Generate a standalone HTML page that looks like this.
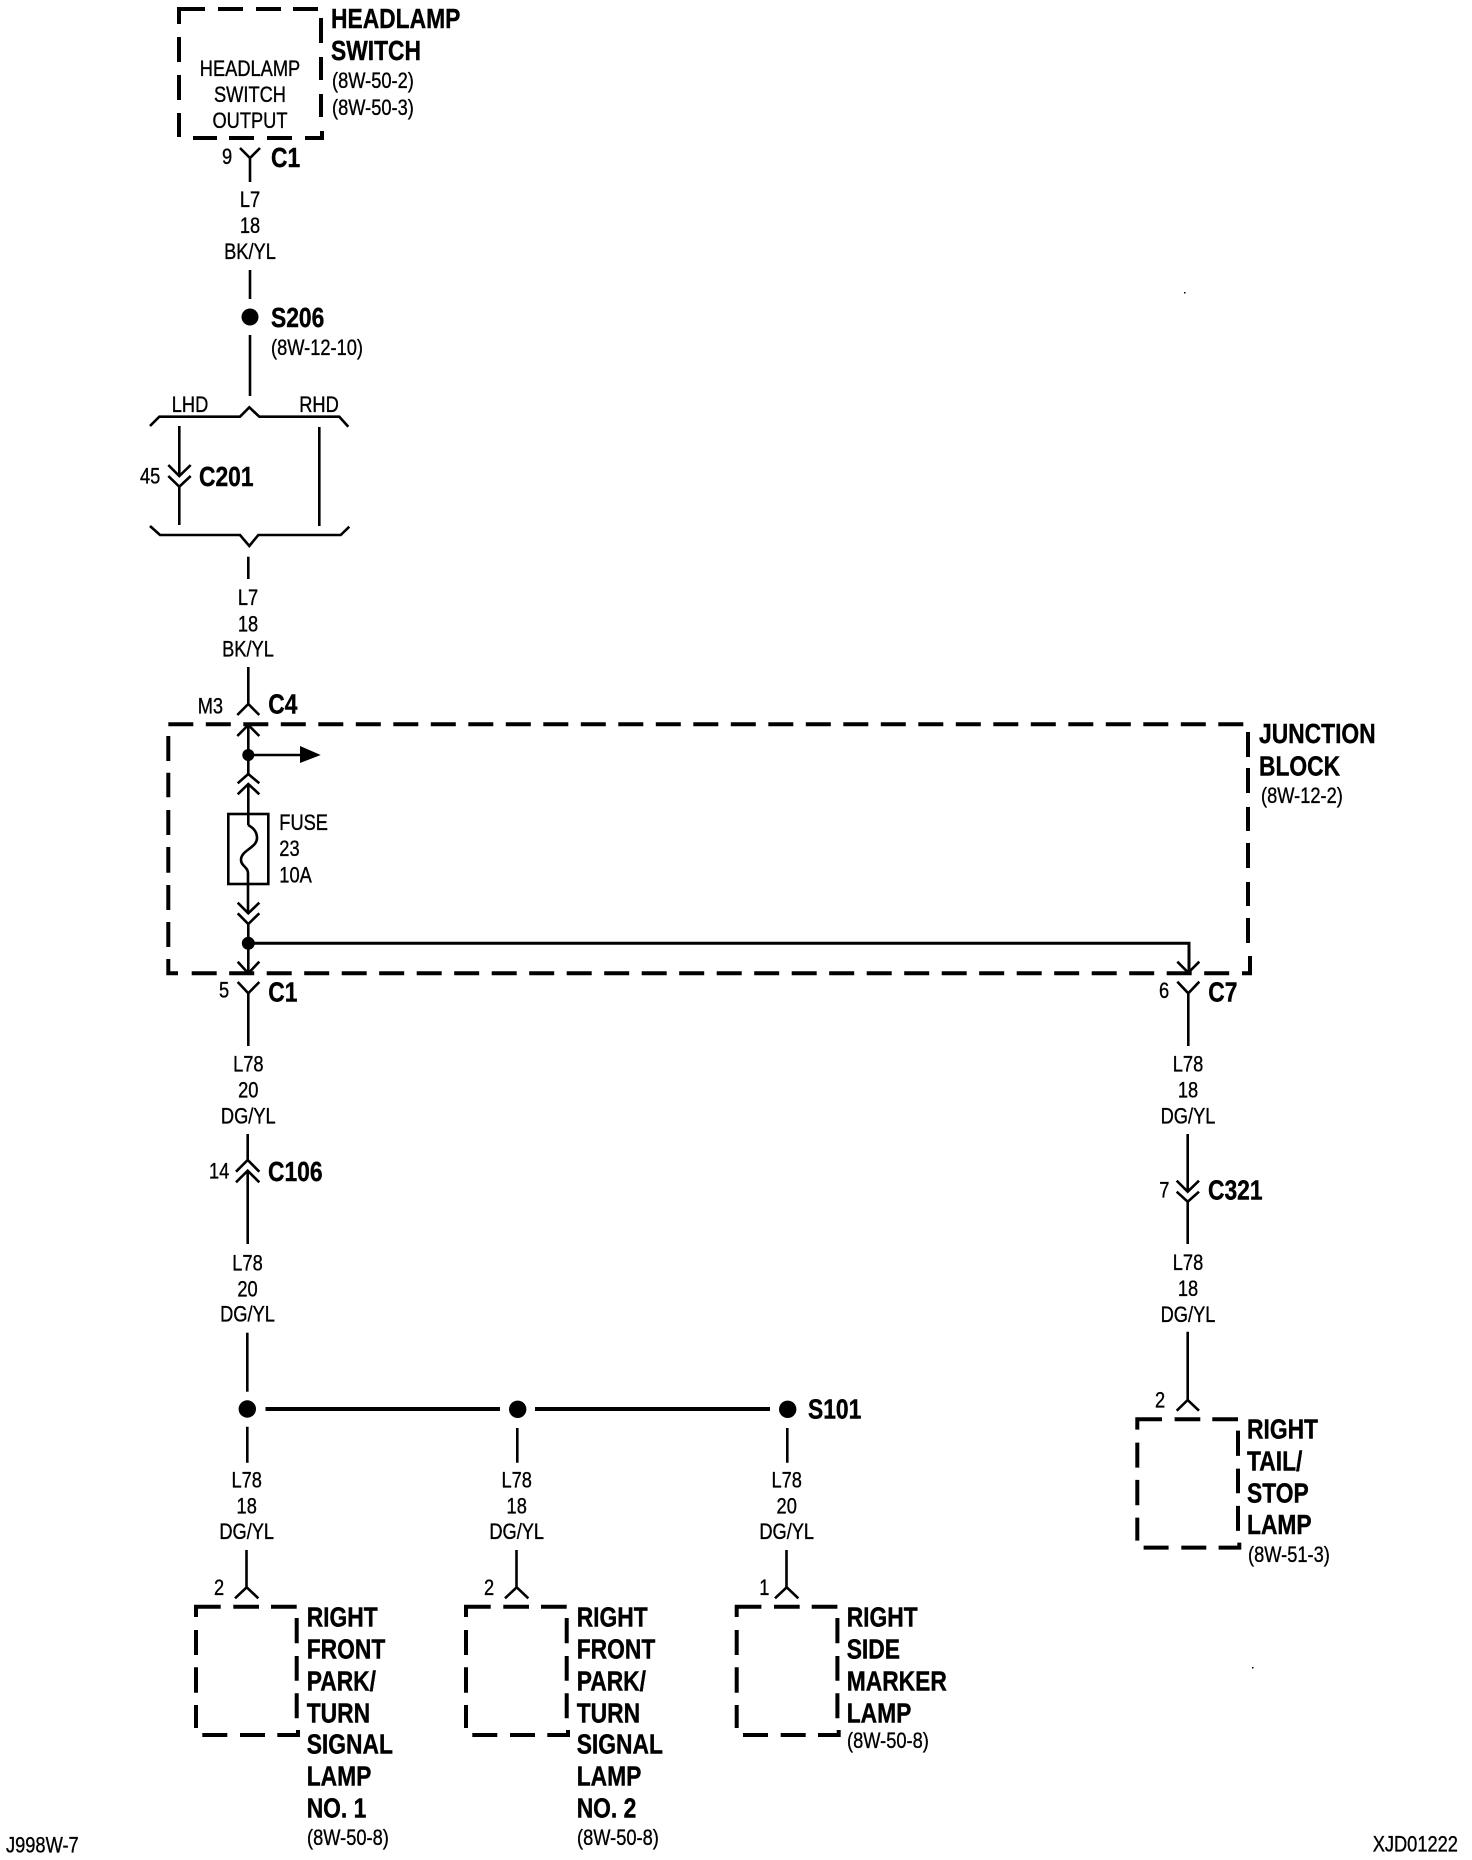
<!DOCTYPE html>
<html><head><meta charset="utf-8"><style>
html,body{margin:0;padding:0;background:#fff}
svg{display:block}
text{font-family:"Liberation Sans",Arial,sans-serif;fill:#000}
.r{font-size:22px;stroke:#000;stroke-width:.35}
.b{font-size:27.5px;font-weight:bold;stroke:#000;stroke-width:.4;translate:-1px 0}
.m{text-anchor:middle}
.w{fill:none;stroke:#000;stroke-width:2.6}
.h{fill:none;stroke:#000;stroke-width:4}
</style></head><body>
<svg xmlns="http://www.w3.org/2000/svg" width="1472" height="1860" viewBox="0 0 1472 1860">
<rect width="1472" height="1860" fill="#fff"/>

<!-- headlamp switch box -->
<path class="h" d="M179,24V9H205M218,9H243M256,9H281M293,9H318M321,18V43M321,57V80M321,94V117M193,138H217M229,138H254M267,138H292M305,138H322V131M179,37V62M179,75V100M179,113V137"/>
<text class="b" transform="matrix(.83 0 0 1 332 28)">HEADLAMP</text>
<text class="b" transform="matrix(.83 0 0 1 332 60)">SWITCH</text>
<text class="r" transform="matrix(.83 0 0 1 332 88)">(8W-50-2)</text>
<text class="r" transform="matrix(.83 0 0 1 332 115)">(8W-50-3)</text>
<text class="r m" transform="matrix(.83 0 0 1 250 76)">HEADLAMP</text>
<text class="r m" transform="matrix(.83 0 0 1 250 102)">SWITCH</text>
<text class="r m" transform="matrix(.83 0 0 1 250 128)">OUTPUT</text>
<path class="w" d="M240,148L250,158L260,148M250,158V182"/>
<text class="r" transform="matrix(.83 0 0 1 222 164)">9</text>
<text class="b" transform="matrix(.83 0 0 1 272 167)">C1</text>
<text class="r m" transform="matrix(.83 0 0 1 250 207)">L7</text>
<text class="r m" transform="matrix(.83 0 0 1 250 233)">18</text>
<text class="r m" transform="matrix(.83 0 0 1 250 259)">BK/YL</text>
<path class="w" d="M250,270V299M250,335V396"/>
<circle cx="250" cy="317" r="8.5"/>
<text class="b" transform="matrix(.83 0 0 1 272 327)">S206</text>
<text class="r" transform="matrix(.83 0 0 1 271 355)">(8W-12-10)</text>

<!-- LHD/RHD brackets -->
<path class="w" d="M150,426L159.3,416.7H240L249.3,407.3L259.3,416.7H339.3L348.3,426.7"/>
<path class="w" d="M150,526L160,535H240L249.3,546L258.3,535H340.7L349.3,526.7"/>
<text class="r m" transform="matrix(.83 0 0 1 190 412)">LHD</text>
<text class="r m" transform="matrix(.83 0 0 1 319 412)">RHD</text>
<path class="w" d="M179.3,426V476M168.3,465L179.3,476L190.7,465M168.3,476L179.3,486.7L190.7,476M179.3,486.7V525M319.3,427V526"/>
<text class="r" transform="matrix(.83 0 0 1 140 483.3)">45</text>
<text class="b" transform="matrix(.83 0 0 1 200 486)">C201</text>
<path class="w" d="M248.3,556.7V579"/>
<text class="r m" transform="matrix(.83 0 0 1 248 605)">L7</text>
<text class="r m" transform="matrix(.83 0 0 1 248 631.7)">18</text>
<text class="r m" transform="matrix(.83 0 0 1 248 656.7)">BK/YL</text>
<path class="w" d="M248.3,667V704M237.3,715L248.3,704L259.3,715"/>
<text class="r" transform="matrix(.83 0 0 1 197.7 713.3)">M3</text>
<text class="b" transform="matrix(.83 0 0 1 269.3 713.3)">C4</text>

<!-- junction block -->
<path class="h" stroke-dasharray="25 12.5" d="M168.3,724.3H1244"/>
<path class="h" stroke-dasharray="25 12.5" d="M191.7,973.3H1230"/>
<path class="h" d="M1242,973.3H1250V956M168.3,736V761M168.3,772.7V797.3M168.3,810V835M168.3,847V872.7M168.3,885V910M168.3,922V947M168.3,959V973.3H178"/>
<path class="h" d="M1248,732V757M1248,768V793M1248,807V831M1248,843V868M1248,882V906M1248,918V943"/>
<text class="b" transform="matrix(.83 0 0 1 1260 743)">JUNCTION</text>
<text class="b" transform="matrix(.83 0 0 1 1260 775.7)">BLOCK</text>
<text class="r" transform="matrix(.83 0 0 1 1261 803)">(8W-12-2)</text>

<path class="w" d="M237.3,736L248.3,725L259.3,736M248.3,725V774"/>
<circle cx="248.3" cy="755" r="6"/>
<path class="w" d="M248.3,755H302"/>
<path d="M300,746L320.7,755L300,763Z"/>
<path class="w" d="M237.7,783.3L248.3,774L259.3,783.3M237.7,794.3L248.3,784L259.3,794.3M248.3,784V825"/>
<rect class="w" x="228.3" y="814" width="40" height="70"/>
<path class="w" d="M248,825C254,828 257,832 257,838C257,848 241,850 241,860C241,866 248,867 248,873V913.3"/>
<text class="r" transform="matrix(.83 0 0 1 279.3 830)">FUSE</text>
<text class="r" transform="matrix(.83 0 0 1 279.3 856)">23</text>
<text class="r" transform="matrix(.83 0 0 1 279.3 882.7)">10A</text>
<path class="w" d="M237.7,902.7L248.3,913.3L259.3,902.7M237.7,913.3L248.3,924L259.3,913.3M248.3,924V973"/>
<circle cx="248.3" cy="943.3" r="6.5"/>
<path class="w" style="stroke-width:3" d="M248.3,943.3H1189V972.7"/>
<path class="w" d="M237.7,961.7L248.3,973.3L259.3,961.7M1177.3,961.7L1188.3,972.7L1199.3,961.7"/>

<!-- C1 / C7 -->
<path class="w" d="M237.7,982L248.3,993.3L259.3,982M248.3,993.3V1046"/>
<text class="r" transform="matrix(.83 0 0 1 219 997.3)">5</text>
<text class="b" transform="matrix(.83 0 0 1 269.3 1001.3)">C1</text>
<path class="w" d="M1177.3,981.7L1188.3,993.3L1199.3,981.7M1188.3,993.3V1046"/>
<text class="r" transform="matrix(.83 0 0 1 1159 998)">6</text>
<text class="b" transform="matrix(.83 0 0 1 1209.3 1001.7)">C7</text>

<!-- left column -->
<text class="r m" transform="matrix(.83 0 0 1 248.3 1071.3)">L78</text>
<text class="r m" transform="matrix(.83 0 0 1 248.3 1097.3)">20</text>
<text class="r m" transform="matrix(.83 0 0 1 248.3 1123.3)">DG/YL</text>
<path class="w" d="M247.7,1134V1160M236,1171.7L247.7,1160L259.3,1171.7M236,1182.3L247.7,1170.7L259.3,1182.3M247.7,1170.7V1244"/>
<text class="r" transform="matrix(.83 0 0 1 209 1178.3)">14</text>
<text class="b" transform="matrix(.83 0 0 1 269 1181)">C106</text>
<text class="r m" transform="matrix(.83 0 0 1 247.5 1270.7)">L78</text>
<text class="r m" transform="matrix(.83 0 0 1 247.5 1296.7)">20</text>
<text class="r m" transform="matrix(.83 0 0 1 247.5 1321.7)">DG/YL</text>
<path class="w" d="M247.3,1332.7V1391.7"/>
<circle cx="247.3" cy="1409" r="8.7"/>
<circle cx="517.7" cy="1409.3" r="8.7"/>
<circle cx="787.7" cy="1409.3" r="8.7"/>
<path class="h" d="M265.5,1409H500M535,1409H770"/>
<text class="b" transform="matrix(.83 0 0 1 809 1418.3)">S101</text>
<path class="w" d="M247.3,1426.7V1462.7M517.3,1428V1462.7M787.3,1428V1462.7"/>

<text class="r m" transform="matrix(.83 0 0 1 246.7 1487.3)">L78</text>
<text class="r m" transform="matrix(.83 0 0 1 246.7 1513.3)">18</text>
<text class="r m" transform="matrix(.83 0 0 1 246.7 1539)">DG/YL</text>
<text class="r m" transform="matrix(.83 0 0 1 516.7 1487.3)">L78</text>
<text class="r m" transform="matrix(.83 0 0 1 516.7 1513.3)">18</text>
<text class="r m" transform="matrix(.83 0 0 1 516.7 1539)">DG/YL</text>
<text class="r m" transform="matrix(.83 0 0 1 786.7 1487.3)">L78</text>
<text class="r m" transform="matrix(.83 0 0 1 786.7 1513.3)">20</text>
<text class="r m" transform="matrix(.83 0 0 1 786.7 1539)">DG/YL</text>

<path class="w" d="M246.5,1550V1587.3M235,1598.3L246.7,1587.3L258.3,1598.3"/>
<path class="w" d="M516.5,1550V1587.3M505,1598.3L516.7,1587.3L528.3,1598.3"/>
<path class="w" d="M786.5,1550V1587.3M775,1598.3L786.7,1587.3L798.3,1598.3"/>
<text class="r" transform="matrix(.83 0 0 1 214 1595)">2</text>
<text class="r" transform="matrix(.83 0 0 1 484 1595)">2</text>
<text class="r" transform="matrix(.83 0 0 1 759.3 1595)">1</text>

<!-- lamp boxes -->
<path class="h" d="M196,1617V1606.7H220.7M233.3,1606.7H259M271,1606.7H296.7M296.7,1618V1643.3M296.7,1656V1680.7M296.7,1693.3V1718.3M202.3,1735H227.3M240,1735H265M277.3,1735H298V1730M196,1630V1655M196,1667.3V1692.7M196,1705V1728"/>
<path class="h" transform="translate(270 0)" d="M196,1617V1606.7H220.7M233.3,1606.7H259M271,1606.7H296.7M296.7,1618V1643.3M296.7,1656V1680.7M296.7,1693.3V1718.3M202.3,1735H227.3M240,1735H265M277.3,1735H298V1730M196,1630V1655M196,1667.3V1692.7M196,1705V1728"/>
<path class="h" transform="translate(540.7 0)" d="M196,1617V1606.7H220.7M233.3,1606.7H259M271,1606.7H296.7M296.7,1618V1643.3M296.7,1656V1680.7M296.7,1693.3V1718.3M202.3,1735H227.3M240,1735H265M277.3,1735H298V1730M196,1630V1655M196,1667.3V1692.7M196,1705V1728"/>
<path class="h" transform="translate(941.3 -187.4)" d="M196,1617V1606.7H220.7M233.3,1606.7H259M271,1606.7H296.7M296.7,1618V1643.3M296.7,1656V1680.7M296.7,1693.3V1718.3M202.3,1735H227.3M240,1735H265M277.3,1735H298V1730M196,1630V1655M196,1667.3V1692.7M196,1705V1728"/>

<text class="b" transform="matrix(.83 0 0 1 307.7 1626.7)">RIGHT</text>
<text class="b" transform="matrix(.83 0 0 1 307.7 1658.3)">FRONT</text>
<text class="b" transform="matrix(.83 0 0 1 307.7 1690.7)">PARK/</text>
<text class="b" transform="matrix(.83 0 0 1 307.7 1722.3)">TURN</text>
<text class="b" transform="matrix(.83 0 0 1 307.7 1753.3)">SIGNAL</text>
<text class="b" transform="matrix(.83 0 0 1 307.7 1785.7)">LAMP</text>
<text class="b" transform="matrix(.83 0 0 1 307.7 1817.3)">NO. 1</text>
<text class="r" transform="matrix(.83 0 0 1 307 1845)">(8W-50-8)</text>

<text class="b" transform="matrix(.83 0 0 1 577.7 1626.7)">RIGHT</text>
<text class="b" transform="matrix(.83 0 0 1 577.7 1658.3)">FRONT</text>
<text class="b" transform="matrix(.83 0 0 1 577.7 1690.7)">PARK/</text>
<text class="b" transform="matrix(.83 0 0 1 577.7 1722.3)">TURN</text>
<text class="b" transform="matrix(.83 0 0 1 577.7 1753.3)">SIGNAL</text>
<text class="b" transform="matrix(.83 0 0 1 577.7 1785.7)">LAMP</text>
<text class="b" transform="matrix(.83 0 0 1 577.7 1817.3)">NO. 2</text>
<text class="r" transform="matrix(.83 0 0 1 577 1845)">(8W-50-8)</text>

<text class="b" transform="matrix(.83 0 0 1 847.7 1626.7)">RIGHT</text>
<text class="b" transform="matrix(.83 0 0 1 847.7 1658.3)">SIDE</text>
<text class="b" transform="matrix(.83 0 0 1 847.7 1690.7)">MARKER</text>
<text class="b" transform="matrix(.83 0 0 1 847.7 1722.3)">LAMP</text>
<text class="r" transform="matrix(.83 0 0 1 847 1748)">(8W-50-8)</text>

<!-- right column -->
<text class="r m" transform="matrix(.83 0 0 1 1188 1071.7)">L78</text>
<text class="r m" transform="matrix(.83 0 0 1 1188 1097.3)">18</text>
<text class="r m" transform="matrix(.83 0 0 1 1188 1123.3)">DG/YL</text>
<path class="w" d="M1187.7,1134V1191.7M1176.7,1180.7L1187.7,1191.7L1199,1180.7M1176.7,1191.7L1187.7,1201.7L1199,1191.7M1187.7,1201.7V1244"/>
<text class="r" transform="matrix(.83 0 0 1 1159.3 1197.7)">7</text>
<text class="b" transform="matrix(.83 0 0 1 1209 1199.7)">C321</text>
<text class="r m" transform="matrix(.83 0 0 1 1188 1270)">L78</text>
<text class="r m" transform="matrix(.83 0 0 1 1188 1296)">18</text>
<text class="r m" transform="matrix(.83 0 0 1 1188 1322)">DG/YL</text>
<path class="w" d="M1187.7,1331.7V1400M1176.7,1410.7L1187.7,1400L1199,1410.7"/>
<text class="r" transform="matrix(.83 0 0 1 1155 1407.3)">2</text>
<text class="b" transform="matrix(.83 0 0 1 1248 1438.3)">RIGHT</text>
<text class="b" transform="matrix(.83 0 0 1 1248 1470.7)">TAIL/</text>
<text class="b" transform="matrix(.83 0 0 1 1248 1502.7)">STOP</text>
<text class="b" transform="matrix(.83 0 0 1 1248 1534)">LAMP</text>
<text class="r" transform="matrix(.83 0 0 1 1248 1562)">(8W-51-3)</text>

<!-- footer -->
<text class="r" transform="matrix(.83 0 0 1 6 1852.3)">J998W-7</text>
<text class="r" transform="matrix(.83 0 0 1 1372.7 1851.7)">XJD01222</text>
<rect x="1184" y="292" width="1.5" height="1.5"/>
<rect x="1252" y="1667" width="1.5" height="1.5"/>
</svg>
</body></html>
